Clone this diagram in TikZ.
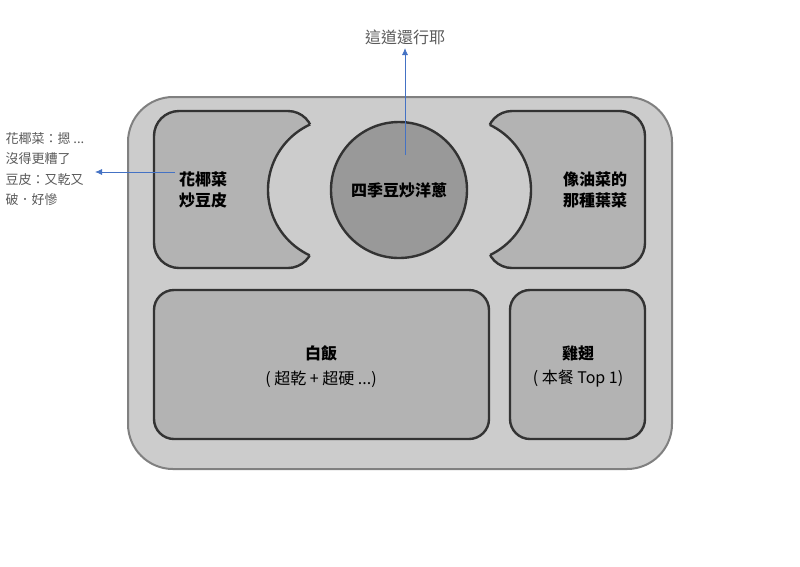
\documentclass[tikz,border=0pt]{standalone}
\usepackage{fontspec}
\setmainfont{Noto Sans CJK TC}
\begin{document}
\begin{tikzpicture}[x=1pt,y=-1pt,
  box/.style={fill=boxc,draw=edge,line width=2.4pt},
  lab/.style={font=\fontsize{16}{21}\selectfont\bfseries,align=center,text=black},
  sub/.style={font=\fontsize{16}{21}\selectfont,align=center},
  note/.style={font=\fontsize{13}{20.5}\selectfont,text=notec,align=left},
  arr/.style={draw=arrc,line width=0.8pt,-{Latex[length=7pt,width=6pt]}}]
\usetikzlibrary{arrows.meta}
\definecolor{boxc}{HTML}{B3B3B3}
\definecolor{bgc}{HTML}{CCCCCC}
\definecolor{edge}{HTML}{333333}
\definecolor{outer}{HTML}{808080}
\definecolor{midc}{HTML}{999999}
\definecolor{notec}{HTML}{595959}
\definecolor{arrc}{HTML}{4472C4}
\useasboundingbox (0,0) rectangle (800,566);
% tray
\draw[fill=bgc,draw=outer,line width=2pt,rounded corners=45] (128,97) rectangle (672,469);
% left box
\fill[boxc,rounded corners=25] (154,111) rectangle (313,268);
\draw[edge,line width=2.4pt,rounded corners=25] (154,111) rectangle (313,268);
\fill[bgc] (340,190) circle (72);
\begin{scope}
\clip[rounded corners=25] (154,111) rectangle (313,268);
\draw[edge,line width=2.4pt] (340,190) circle (72);
\end{scope}
% right box
\fill[boxc,rounded corners=25] (487,111) rectangle (645,268);
\draw[edge,line width=2.4pt,rounded corners=25] (487,111) rectangle (645,268);
\fill[bgc] (459,190) circle (72);
\begin{scope}
\clip[rounded corners=25] (487,111) rectangle (645,268);
\draw[edge,line width=2.4pt] (459,190) circle (72);
\end{scope}
% middle
\draw[fill=midc,draw=edge,line width=2.4pt] (399,190) circle (68);
% bottom
\draw[box,rounded corners=20] (154,290) rectangle (489,439);
\draw[box,rounded corners=20] (510,290) rectangle (645,439);
% labels
\node[lab] (l) at (203,190) {花椰菜\\炒豆皮};
\node[lab] (m) at (399,190) {四季豆炒洋蔥};
\node[lab] (r) at (595,190) {像油菜的\\那種葉菜};
\node[lab] (rice) at (321,353) {白飯};
\node[sub] (rice2) at (321,379) {( 超乾 + 超硬 ...)};
\node[lab] (wing) at (578,353) {雞翅};
\node[sub] (wing2) at (578,379) {( 本餐 Top 1)};
% annotations
\node[font=\fontsize{16}{20}\selectfont,text=notec] (top) at (405,37) {這道還行耶};
\node[note,anchor=north west] (note) at (2,129) {花椰菜：摁 ...\\沒得更糟了\\豆皮：又乾又\\破．好慘};
\coordinate (ms) at (405,155);
\coordinate (ls) at (175,172);
\coordinate (le) at (95,172);
\draw[arr] (ms) -- (top.south);
\draw[arr] (ls) -- (le);
\end{tikzpicture}
\end{document}
